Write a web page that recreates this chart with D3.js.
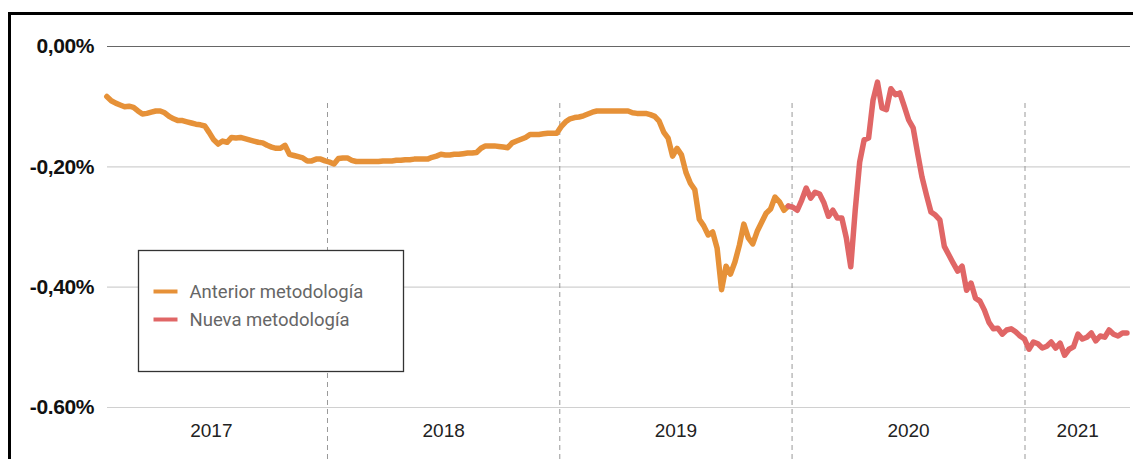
<!DOCTYPE html>
<html>
<head>
<meta charset="utf-8">
<script src="https://cdn.jsdelivr.net/npm/d3@7"></script>
<style>
  body { margin: 0; background: #fff; }
  svg { display: block; font-family: Roboto, "Noto Sans", sans-serif; }
</style>
</head>
<body>
<svg id="canvas" width="1133" height="459"></svg>
<script>
// ---------------------------------------------------------------- //
// Data (weekly readings, % )

var anteriorStart = '2017-01-20';
var anteriorValues = [
  -0.084,-0.091,-0.095,-0.098,-0.101,-0.100,-0.102,-0.108,-0.113,-0.112,
  -0.110,-0.108,-0.108,-0.111,-0.117,-0.121,-0.124,-0.124,-0.126,-0.128,
  -0.130,-0.131,-0.133,-0.144,-0.156,-0.163,-0.158,-0.160,-0.152,-0.153,
  -0.152,-0.154,-0.156,-0.158,-0.160,-0.161,-0.165,-0.168,-0.170,-0.170,
  -0.165,-0.180,-0.182,-0.184,-0.186,-0.191,-0.191,-0.188,-0.188,-0.191,
  -0.193,-0.196,-0.187,-0.186,-0.186,-0.190,-0.192,-0.192,-0.192,-0.192,
  -0.192,-0.192,-0.191,-0.191,-0.191,-0.190,-0.190,-0.189,-0.189,-0.188,
  -0.188,-0.188,-0.188,-0.185,-0.183,-0.180,-0.181,-0.181,-0.180,-0.180,
  -0.179,-0.178,-0.178,-0.177,-0.170,-0.166,-0.166,-0.166,-0.167,-0.168,
  -0.169,-0.161,-0.158,-0.155,-0.152,-0.147,-0.147,-0.147,-0.146,-0.145,
  -0.145,-0.145,-0.134,-0.126,-0.121,-0.119,-0.118,-0.116,-0.113,-0.110,
  -0.108,-0.108,-0.108,-0.108,-0.108,-0.108,-0.108,-0.108,-0.111,-0.112,
  -0.112,-0.112,-0.114,-0.117,-0.125,-0.143,-0.153,-0.183,-0.170,-0.181,
  -0.210,-0.228,-0.239,-0.288,-0.299,-0.314,-0.309,-0.336,-0.405,-0.366,
  -0.379,-0.359,-0.331,-0.296,-0.319,-0.329,-0.308,-0.293,-0.278,-0.271,
  -0.251,-0.259,-0.273,-0.266
];

var nuevaStart = '2019-12-27';
var nuevaValues = [
  -0.266,-0.268,-0.273,-0.256,-0.236,-0.253,-0.243,-0.246,-0.261,-0.283,
  -0.273,-0.286,-0.286,-0.319,-0.367,-0.273,-0.193,-0.156,-0.153,-0.090,
  -0.060,-0.103,-0.106,-0.071,-0.081,-0.078,-0.100,-0.123,-0.136,-0.178,
  -0.218,-0.248,-0.276,-0.281,-0.289,-0.333,-0.347,-0.361,-0.374,-0.366,
  -0.406,-0.394,-0.419,-0.424,-0.439,-0.459,-0.470,-0.469,-0.479,-0.472,
  -0.470,-0.475,-0.482,-0.487,-0.504,-0.492,-0.495,-0.502,-0.499,-0.492,
  -0.502,-0.494,-0.514,-0.504,-0.500,-0.479,-0.487,-0.484,-0.477,-0.490,
  -0.482,-0.484,-0.472,-0.479,-0.482,-0.477,-0.477
];

var seriesNames = ['Anterior metodología', 'Nueva metodología'];
var seriesColors = ['#e69138', '#e06666'];

var yTickValues = [0, -0.2, -0.4, -0.6];
var yTickLabels = ['0,00%', '-0,20%', '-0,40%', '-0.60%'];

var yearStarts = ['2018-01-01', '2019-01-01', '2020-01-01', '2021-01-01'];
var yearLabels = ['2017', '2018', '2019', '2020', '2021'];

// ---------------------------------------------------------------- //
// Setup

var parse = d3.timeParse('%Y-%m-%d');
function toPoints(start, values){
  var s = parse(start);
  return values.map((v,i) => { return { date: d3.timeDay.offset(s, 7*i), value: v } });
}
var anterior = toPoints(anteriorStart, anteriorValues);
var nueva = toPoints(nuevaStart, nuevaValues);

var svg = d3.select('#canvas');
var plotLeft = 107, plotRight = 1130, plotTop = 46, plotBottom = 407;

var xScale = d3.scaleTime()
  .domain([parse('2017-01-01'), parse('2021-01-01')])
  .range([94.7, 1024.5]);
var xEnd = xScale.invert(plotRight);
var yScale = d3.scaleLinear().domain([-0.6, 0]).range([plotBottom, plotTop]);

// frame
svg.append('line').attr('x1', 8).attr('x2', 1133).attr('y1', 13.5).attr('y2', 13.5)
  .attr('stroke', '#000').attr('stroke-width', 3);
svg.append('line').attr('x1', 9.5).attr('x2', 9.5).attr('y1', 12).attr('y2', 459)
  .attr('stroke', '#000').attr('stroke-width', 3);

// y axis + gridlines
var yAxis = svg.append('g').attr('transform', 'translate(' + plotLeft + ',0)')
  .call(d3.axisLeft(yScale).tickValues(yTickValues)
    .tickFormat((d,i) => yTickLabels[i])
    .tickSize(-(plotRight - plotLeft)).tickPadding(13));
yAxis.select('.domain').remove();
yAxis.selectAll('.tick line').attr('stroke', d => d === 0 ? '#666' : '#d0d0d0').attr('stroke-width', 1.2);
yAxis.selectAll('.tick text').attr('fill', '#111').style('font-size', '21px').style('font-weight', 700)
  .attr('letter-spacing', '-0.4px');

// year dividers
var xAxis = svg.append('g').attr('transform', 'translate(0,459)')
  .call(d3.axisBottom(xScale).tickValues(yearStarts.map(parse)).tickSize(-359).tickFormat(''));
xAxis.select('.domain').remove();
xAxis.selectAll('.tick line').attr('stroke', '#999').attr('stroke-dasharray', '5,4');

// year labels at the middle of each visible year
var labelDates = yearLabels.map(y => {
  var a = parse(y + '-01-01'), b = d3.min([parse((+y + 1) + '-01-01'), xEnd]);
  return new Date((a.getTime() + b.getTime())/2);
});
var xLabels = svg.append('g').attr('transform', 'translate(0,420)')
  .call(d3.axisBottom(xScale).tickValues(labelDates).tickSize(0).tickFormat((d,i) => yearLabels[i]));
xLabels.select('.domain').remove();
xLabels.selectAll('.tick text').attr('fill', '#222').style('font-size', '19px');

// lines
var lineGen = d3.line().x(d => xScale(d.date)).y(d => yScale(d.value));
[anterior, nueva].forEach((data, i) => {
  svg.append('path').datum(data).attr('d', lineGen)
    .attr('fill', 'none').attr('stroke', seriesColors[i]).attr('stroke-width', 5.5)
    .attr('stroke-linejoin', 'round').attr('stroke-linecap', 'round');
});

// legend
var legend = svg.append('g').attr('transform', 'translate(138.5,250.5)');
legend.append('rect').attr('width', 265).attr('height', 121)
  .attr('fill', '#fff').attr('stroke', '#333').attr('stroke-width', 1.3);
seriesNames.forEach((name, i) => {
  var row = legend.append('g').attr('transform', 'translate(15,' + (41 + 28*i) + ')');
  row.append('line').attr('x1', 0).attr('x2', 24).attr('stroke', seriesColors[i]).attr('stroke-width', 4);
  row.append('text').attr('x', 36).attr('dy', '0.35em').attr('fill', '#666')
    .style('font-size', '18.5px').text(name);
});
</script>
</body>
</html>
